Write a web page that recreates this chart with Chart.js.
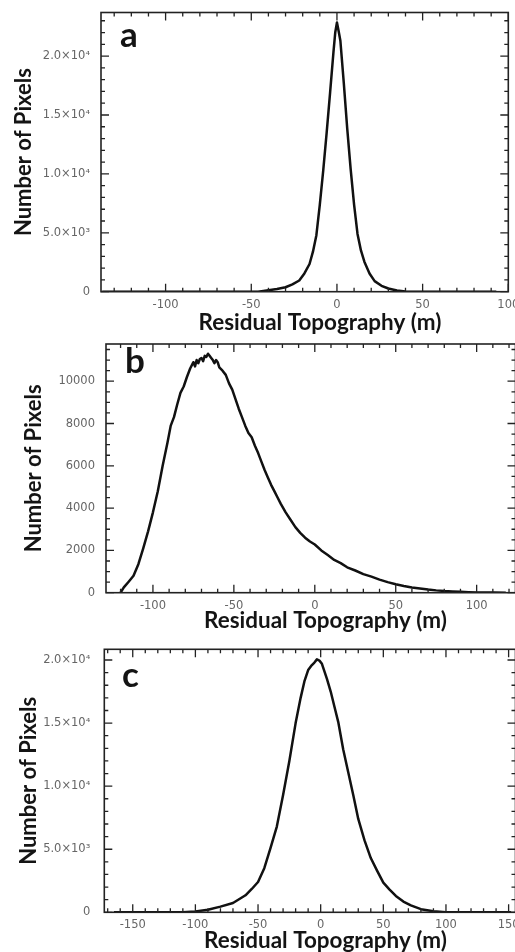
<!DOCTYPE html>
<html>
<head>
<meta charset="utf-8">
<script src="https://cdn.jsdelivr.net/npm/chart.js@4.4.1/dist/chart.umd.min.js"></script>
<style>
  html, body { margin: 0; padding: 0; background: #fff; }
  body { width: 515px; height: 952px; overflow: hidden; position: relative; }
  canvas { position: absolute; left: 0; }
</style>
</head>
<body>
<canvas id="chartA" width="560" height="335" style="top:0px"></canvas>
<canvas id="chartB" width="560" height="300" style="top:335px"></canvas>
<canvas id="chartC" width="560" height="317" style="top:635px"></canvas>
<script>
// panel a
const xA = [-137, -46, -41, -35, -30, -26, -22, -19, -16, -14, -12, -10, -8, -6, -4, -2, -1, 0, 1, 2, 4, 6, 8, 10, 12, 14, 16, 19, 22, 26, 30, 35, 40, 46, 93];
const yA = [0, 0, 100, 230, 380, 620, 950, 1550, 2350, 3400, 4800, 7400, 10300, 13500, 16900, 20400, 22000, 22850, 22100, 21300, 17700, 13850, 10400, 7400, 4900, 3500, 2550, 1550, 900, 500, 270, 100, 20, 0, 0];
const yTickValsA = [0, 5000, 10000, 15000, 20000];
const yTickLabelsA = ['0', '5.0×10³', '1.0×10⁴', '1.5×10⁴', '2.0×10⁴'];

// panel b
const xB = [-120, -118, -115, -112, -109, -106, -103, -100, -97, -94, -91, -89, -87, -85, -83, -81, -79, -77, -75, -74, -73, -72, -71, -70, -69, -68, -67, -66, -65, -64, -63, -62, -61, -60, -59, -57, -55, -53, -51, -49, -47, -45, -43, -41, -39, -37, -35, -33, -31, -29, -27, -25, -23, -21, -18, -15, -12, -9, -6, -3, 0, 4, 8, 12, 16, 20, 25, 30, 35, 40, 45, 50, 55, 60, 65, 70, 75, 80, 85, 90, 95, 100, 110, 118];
const yB = [0, 250, 520, 800, 1350, 2100, 2900, 3800, 4800, 6000, 7100, 7900, 8300, 8900, 9450, 9750, 10200, 10600, 10900, 10700, 11000, 10850, 11050, 11100, 10950, 11200, 11150, 11300, 11200, 11100, 11000, 10850, 11000, 10900, 10650, 10500, 10300, 9900, 9600, 9150, 8700, 8300, 7900, 7550, 7350, 6950, 6600, 6200, 5800, 5450, 5100, 4800, 4500, 4200, 3800, 3450, 3100, 2830, 2600, 2420, 2280, 2000, 1780, 1550, 1400, 1200, 1050, 880, 760, 620, 500, 400, 320, 250, 200, 150, 110, 80, 60, 40, 25, 15, 8, 0];
const yTickValsB = [0, 2000, 4000, 6000, 8000, 10000];
const yTickLabelsB = ['0', '2000', '4000', '6000', '8000', '10000'];

// panel c
const xC = [-165, -110, -100, -90, -80, -70, -60, -55, -50, -45, -40, -35, -30, -25, -20, -16, -13, -10, -7, -5, -3, -1, 1, 3, 5, 8, 11, 14, 18, 22, 26, 30, 35, 40, 45, 50, 55, 60, 66, 72, 80, 90, 100, 110, 152];
const yC = [0, 0, 60, 200, 450, 740, 1350, 1850, 2400, 3500, 5100, 6800, 9300, 12000, 15000, 17000, 18300, 19200, 19600, 19800, 20050, 19950, 19700, 19100, 18500, 17500, 16300, 15100, 12900, 11100, 9300, 7400, 5700, 4300, 3300, 2350, 1800, 1300, 850, 550, 250, 80, 10, 0, 0];
const yTickValsC = [0, 5000, 10000, 15000, 20000];
const yTickLabelsC = ['0', '5.0×10³', '1.0×10⁴', '1.5×10⁴', '2.0×10⁴'];

const xTitle = 'Residual Topography (m)';
const yTitle = 'Number of Pixels';

const titleFamily = 'Lato, "Open Sans", sans-serif';
const tickFont = { family: '"DejaVu Sans", sans-serif', size: 11.5 };
const tickColor = '#666';

// font size that makes a bold text span a given width
function fitSize(text, width, family) {
  const c = document.createElement('canvas').getContext('2d');
  c.font = 'bold 20px ' + family;
  return 20 * width / c.measureText(text).width;
}

// frame round the plot with inward major/minor ticks on all four sides
const frameTicks = {
  id: 'frameTicks',
  afterDatasetsDraw(chart, args, o) {
    const { ctx, chartArea: a, scales: { x, y } } = chart;
    ctx.save();
    ctx.strokeStyle = '#222';
    ctx.lineWidth = 1.3;
    ctx.beginPath();
    for (let v = Math.ceil(x.min / o.xMinor) * o.xMinor; v <= x.max; v += o.xMinor) {
      const len = Math.abs(v % o.xMajor) < 1e-6 ? 8 : 4;
      const px = x.getPixelForValue(v);
      ctx.moveTo(px, a.bottom); ctx.lineTo(px, a.bottom - len);
      ctx.moveTo(px, a.top); ctx.lineTo(px, a.top + len);
    }
    for (let v = 0; v <= y.max; v += o.yMinor) {
      const len = Math.abs(v % o.yMajor) < 1e-6 ? 8 : 4;
      const py = y.getPixelForValue(v);
      ctx.moveTo(a.left, py); ctx.lineTo(a.left + len, py);
      ctx.moveTo(a.right, py); ctx.lineTo(a.right - len, py);
    }
    ctx.stroke();
    ctx.lineWidth = 1.6;
    ctx.strokeRect(a.left, a.top, a.right - a.left, a.bottom - a.top);
    ctx.restore();
  }
};

// x-axis title and panel letter
const panelText = {
  id: 'panelText',
  afterDraw(chart, args, o) {
    const ctx = chart.ctx;
    ctx.save();
    ctx.fillStyle = '#141414';
    ctx.textBaseline = 'middle';
    ctx.textAlign = 'center';
    ctx.font = 'bold ' + fitSize(xTitle, 243, titleFamily) + 'px ' + titleFamily;
    ctx.fillText(xTitle, o.titleX, o.titleY);
    ctx.textBaseline = 'alphabetic';
    ctx.textAlign = 'left';
    ctx.font = 'bold 35px ' + titleFamily;
    ctx.fillText(o.letter, o.letterX, o.letterY);
    ctx.restore();
  }
};

const ySize = fitSize(yTitle, 168, titleFamily);

function makePanel(id, xs, ys, tickVals, tickLabels, p) {
  const canvas = document.getElementById(id);
  const points = xs.map((v, i) => ({ x: v, y: ys[i] }));
  return new Chart(canvas, {
    type: 'line',
    data: {
      datasets: [{
        data: points,
        borderColor: '#111',
        borderWidth: 2.5,
        borderJoinStyle: 'round',
        pointRadius: 0,
        tension: 0,
        fill: false
      }]
    },
    options: {
      responsive: false,
      animation: false,
      events: [],
      layout: { padding: { left: 0, top: p.top, right: canvas.width - p.right, bottom: 0 } },
      plugins: {
        legend: { display: false },
        tooltip: { enabled: false },
        frameTicks: { xMajor: 50, xMinor: 10, yMajor: p.yStep, yMinor: p.yMinor },
        panelText: { titleX: p.titleX, titleY: p.titleY, letter: p.letter, letterX: p.letterX, letterY: p.letterY }
      },
      scales: {
        x: {
          type: 'linear',
          min: p.xMin,
          max: p.xMax,
          grid: { display: false, drawTicks: false },
          border: { display: false },
          ticks: { stepSize: 50, includeBounds: false, padding: 6, color: tickColor, font: tickFont, maxRotation: 0, autoSkip: false },
          afterFit: s => { s.height = canvas.height - p.bottom; s.paddingLeft = 0; s.paddingRight = 0; }
        },
        y: {
          min: 0,
          max: p.yMax,
          grid: { display: false, drawTicks: false },
          border: { display: false },
          ticks: {
            autoSkip: false,
            padding: p.yTickPad,
            color: tickColor,
            font: tickFont,
            callback: (v, i) => tickLabels[i]
          },
          afterBuildTicks: s => { s.ticks = tickVals.map(v => ({ value: v })); },
          title: {
            display: true,
            text: yTitle,
            color: '#141414',
            font: { family: titleFamily, size: ySize, weight: 'bold' },
            padding: { top: p.yTitlePad, bottom: 0 }
          },
          afterFit: s => { s.width = p.left; s.paddingTop = 0; s.paddingBottom = 0; }
        }
      }
    },
    plugins: [frameTicks, panelText]
  });
}

makePanel('chartA', xA, yA, yTickValsA, yTickLabelsA, {
  top: 12.5, bottom: 291.7, left: 101, right: 508.3,
  xMin: -137.7, xMax: 100, yMax: 23700, yStep: 5000, yMinor: 1000,
  yTickPad: 11, yTitlePad: 11,
  titleX: 320, titleY: 322.7, letter: 'a', letterX: 120, letterY: 47
});

makePanel('chartB', xB, yB, yTickValsB, yTickLabelsB, {
  top: 9, bottom: 257.7, left: 106, right: 515.5,
  xMin: -129, xMax: 124, yMax: 11760, yStep: 2000, yMinor: 500,
  yTickPad: 11, yTitlePad: 21,
  titleX: 325.5, titleY: 286, letter: 'b', letterX: 125, letterY: 38
});

makePanel('chartC', xC, yC, yTickValsC, yTickLabelsC, {
  top: 14.3, bottom: 277.3, left: 104.3, right: 515.5,
  xMin: -172.7, xMax: 155.5, yMax: 20850, yStep: 5000, yMinor: 1000,
  yTickPad: 14, yTitlePad: 16,
  titleX: 325.5, titleY: 306, letter: 'c', letterX: 122, letterY: 52
});
</script>
</body>
</html>
